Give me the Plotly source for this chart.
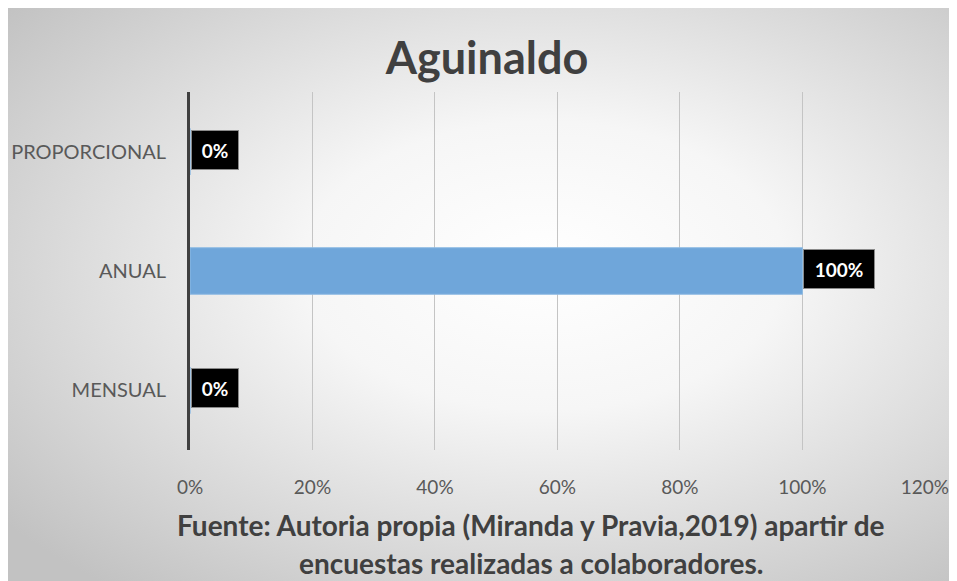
import base64
import plotly.graph_objects as go

categories = ["MENSUAL", "ANUAL", "PROPORCIONAL"]
values = [0.0, 1.0, 0.0]
labels = ["0%", "100%", "0%"]
tick_vals = [0, 0.2, 0.4, 0.6, 0.8, 1.0, 1.2]
tick_text = ["0%", "20%", "40%", "60%", "80%", "100%", "120%"]

# page body adds an 8px offset, so everything is placed 8px up/left
W, H = 957, 573
L, R, T, B = 182, 40, 84, 131
pw, ph = W - L - R, H - T - B

# radial grey background, like the office chart area fill
svg = """<svg xmlns='http://www.w3.org/2000/svg' width='957' height='573' viewBox='0 0 957 573' preserveAspectRatio='none'>
<defs><radialGradient id='g' cx='0.56' cy='0.45' r='0.72'>
<stop offset='0' stop-color='#ffffff'/><stop offset='0.35' stop-color='#f6f6f6'/>
<stop offset='1' stop-color='#c2c2c2'/></radialGradient></defs>
<rect width='957' height='573' fill='url(#g)'/></svg>"""
bg_src = "data:image/svg+xml;base64," + base64.b64encode(svg.encode()).decode()

fig = go.Figure()
fig.add_trace(go.Bar(
    x=values, y=categories, orientation="h",
    marker=dict(color="#6fa6da", line=dict(color="#8fbbe3", width=1)),
    hoverinfo="skip",
))

# data labels in black boxes
for cat, v, lab in zip(categories, values, labels):
    fig.add_annotation(
        x=v, y=cat, xref="x", yref="y", text="<b>" + lab + "</b>",
        showarrow=False, xanchor="left", yanchor="middle", xshift=1, yshift=2,
        font=dict(family="Lato", size=19, color="white"),
        bgcolor="black", bordercolor="#8a8a8a", borderwidth=1, borderpad=0,
        width=46 if len(lab) < 4 else 70, height=38,
    )

footer_font = dict(family="Lato", size=28, color="#404040")
fig.add_annotation(
    text="<b>Fuente: Autoria propia (Miranda y Pravia,2019) apartir de</b>",
    xref="paper", yref="paper", x=(523 - L) / pw, y=(H - B - 517) / ph,
    showarrow=False, xanchor="center", yanchor="middle", font=footer_font,
)
fig.add_annotation(
    text="<b>encuestas realizadas a colaboradores.</b>",
    xref="paper", yref="paper", x=(523 - L) / pw, y=(H - B - 555) / ph,
    showarrow=False, xanchor="center", yanchor="middle", font=footer_font,
)

fig.add_layout_image(
    source=bg_src, xref="paper", yref="paper",
    x=-L / pw, y=(H - B) / ph, sizex=W / pw, sizey=H / ph,
    xanchor="left", yanchor="top", sizing="stretch", layer="below",
)

fig.update_layout(
    width=W, height=H,
    margin=dict(l=L, r=R, t=T, b=B),
    paper_bgcolor="white", plot_bgcolor="rgba(0,0,0,0)",
    showlegend=False, bargap=0.61,
    title=dict(text="<b>Aguinaldo</b>", x=479 / W, y=1 - 50 / H,
               xanchor="center", yanchor="middle", xref="container", yref="container",
               font=dict(family="Lato", size=45, color="#404040")),
    xaxis=dict(range=[0, 1.2001], tickvals=tick_vals, ticktext=tick_text,
               showgrid=True, gridcolor="#c4c4c4", gridwidth=1, zeroline=False,
               showline=False, ticks="", ticklabelstandoff=24, automargin=False,
               tickfont=dict(family="Lato", size=19, color="#595959")),
    yaxis=dict(categoryorder="array", categoryarray=categories,
               showline=True, linecolor="#404040", linewidth=3, showgrid=False,
               zeroline=False, ticks="", ticklabelstandoff=17, automargin=False,
               tickfont=dict(family="Lato", size=20, color="#595959")),
)

fig.write_html("out.html")
